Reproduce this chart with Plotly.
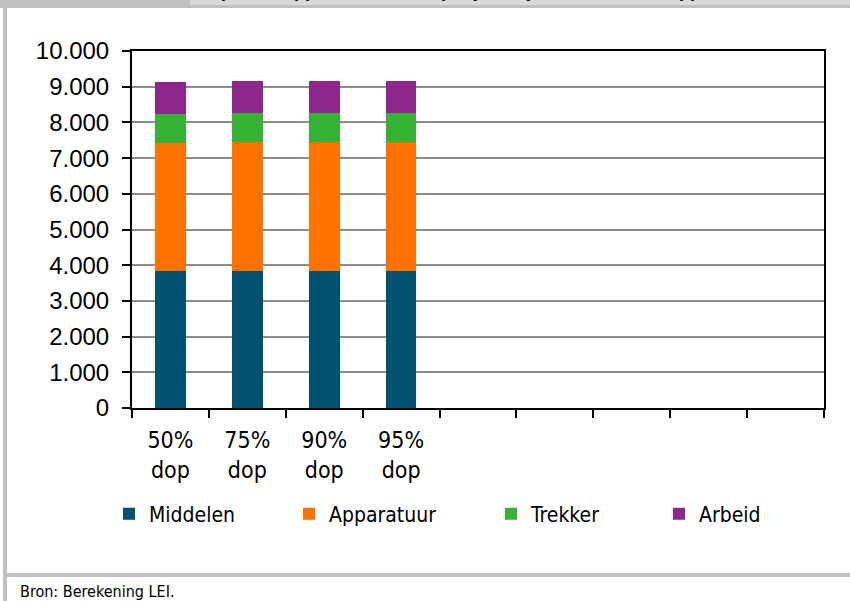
import plotly.graph_objects as go

# ---- data ----
categories = ["50%<br>dop", "75%<br>dop", "90%<br>dop", "95%<br>dop", " ", "  ", "   ", "    ", "     "]
middelen   = [3840, 3845, 3845, 3845, None, None, None, None, None]
apparatuur = [3580, 3605, 3605, 3605, None, None, None, None, None]
trekker    = [820, 820, 820, 820, None, None, None, None, None]
arbeid     = [890, 890, 890, 890, None, None, None, None, None]
series_names = ["Middelen", "Apparatuur", "Trekker", "Arbeid"]
series_colors = ["#005270", "#FF7200", "#35B234", "#8E278C"]
y_ticks = [0, 1000, 2000, 3000, 4000, 5000, 6000, 7000, 8000, 9000, 10000]

W, H = 850, 601
L, R, T, B = 132, 824, 51, 408  # plot area in pixels


def px(xp):
    return (xp - L) / (R - L)


def py(yp):
    return (B - yp) / (B - T)


NARROW = "DejaVu Sans Condensed, Liberation Sans Narrow, Arial Narrow, sans-serif"
REG = "Liberation Sans, Arial, sans-serif"

fig = go.Figure()
legend_ids = ["legend", "legend2", "legend3", "legend4"]
for name, vals, col, lg in zip(series_names, [middelen, apparatuur, trekker, arbeid], series_colors, legend_ids):
    fig.add_trace(go.Bar(x=categories, y=vals, name=name, marker_color=col,
                         marker_line_width=0, legend=lg, showlegend=True))

legend_text_x = [151, 331, 533, 701]
leg_common = dict(orientation="h", xanchor="left", yanchor="middle", y=py(514),
                  font=dict(family=NARROW, size=21, color="#000000"),
                  bgcolor="rgba(0,0,0,0)", borderwidth=0, visible=True)
layout_legends = {}
for lg, tx in zip(legend_ids, legend_text_x):
    layout_legends[lg] = dict(x=px(tx - 42), **leg_common)

shapes = [
    # top strip
    dict(type="rect", xref="paper", yref="paper", x0=px(0), x1=px(W), y0=py(0), y1=py(8),
         fillcolor="#C0C0C0", line_width=0, layer="below"),
    dict(type="rect", xref="paper", yref="paper", x0=px(190), x1=px(W), y0=py(0), y1=py(5),
         fillcolor="#D9D9D9", line_width=0, layer="below"),
    # left border
    dict(type="rect", xref="paper", yref="paper", x0=px(3), x1=px(7), y0=py(0), y1=py(H),
         fillcolor="#C0C0C0", line_width=0, layer="below"),
    # bottom separator
    dict(type="rect", xref="paper", yref="paper", x0=px(3), x1=px(W), y0=py(573), y1=py(577),
         fillcolor="#C0C0C0", line_width=0, layer="below"),
]

annotations = [
    dict(text="<b>Opbouw apparatuurkosten per jaar bij verschillende doppen</b>", xref="paper", yref="paper",
         x=px(205), y=py(2.5), xanchor="left", yanchor="bottom", showarrow=False,
         font=dict(family=REG, size=18, color="#000000")),
    dict(text="Bron: Berekening LEI.", xref="paper", yref="paper",
         x=px(18), y=py(591), xanchor="left", yanchor="middle", showarrow=False,
         font=dict(family=NARROW, size=16, color="#000000")),
]

fig.update_layout(
    width=W, height=H,
    margin=dict(l=L, r=W - R, t=T, b=H - B, pad=0),
    barmode="stack", bargap=0.6,
    plot_bgcolor="#FFFFFF", paper_bgcolor="#FFFFFF",
    separators=",.",
    showlegend=True,
    shapes=shapes, annotations=annotations,
    **layout_legends,
)
fig.update_xaxes(
    categoryorder="array", categoryarray=categories, range=[-0.5, 8.5],
    showline=True, linecolor="#000000", linewidth=2, mirror=True,
    ticks="outside", tickson="boundaries", ticklen=8, tickwidth=2, tickcolor="#000000",
    tickfont=dict(family=NARROW, size=23, color="#000000"), showgrid=False,
    ticklabelstandoff=10,
)
fig.update_yaxes(
    range=[0, 10000], tickvals=y_ticks, tickformat=",d",
    showline=True, linecolor="#000000", linewidth=2, mirror=True,
    ticks="outside", ticklen=8, tickwidth=2, tickcolor="#000000",
    showgrid=True, gridcolor="#8C8C8C", gridwidth=1.5,
    tickfont=dict(family=REG, size=24, color="#000000"), zeroline=False,
    ticklabelstandoff=8,
)

fig.write_html("out.html", config={"displayModeBar": False},
               post_script="document.body.style.margin='0';")
